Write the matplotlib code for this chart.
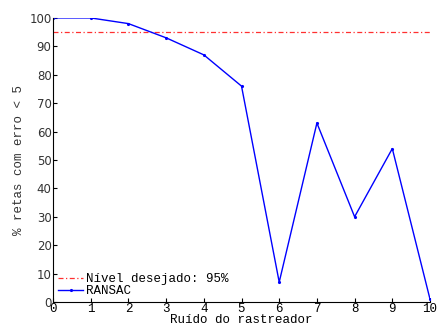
import matplotlib
matplotlib.use("Agg")
import matplotlib.pyplot as plt

noise = [0, 1, 2, 3, 4, 5, 6, 7, 8, 9, 10]
ransac = [100, 100, 98, 93, 87, 76, 7, 63, 30, 54, 1]
desired = 95
xticks = [0, 1, 2, 3, 4, 5, 6, 7, 8, 9, 10]
yticks = [0, 10, 20, 30, 40, 50, 60, 70, 80, 90, 100]

mono = "Liberation Mono"
fig = plt.figure(figsize=(4.37, 3.26), dpi=100)
ax = fig.add_axes([0.1213, 0.0736, 0.8627, 0.8714])
ax.plot([noise[0], noise[-1]], [desired, desired], color="#ff3030", linestyle=(0, (4, 2, 1, 2)),
        linewidth=0.9, label="Nível desejado: 95%")
ax.plot(noise, ransac, color="blue", linewidth=1.0, marker=".", markersize=2.5,
        label="RANSAC")
ax.set_xlim(0, 10)
ax.set_ylim(0, 100)
ax.set_xticks(xticks)
ax.set_yticks(yticks)
ax.set_xticklabels([str(t) for t in xticks], fontfamily=mono, fontsize=9)
ax.set_yticklabels([str(t) for t in yticks], fontfamily="DejaVu Sans", fontsize=8.5,
                   color="#333333")
ax.tick_params(direction="in", length=3, width=0.8, pad=1)
for s in ["top", "right"]:
    ax.spines[s].set_visible(False)
ax.set_xlabel("Ruído do rastreador", fontfamily=mono, fontsize=9, labelpad=-1)
ax.set_ylabel("% retas com erro < 5", fontfamily=mono, fontsize=9, labelpad=3,
              color="#333333")
ax.legend(loc="lower left", frameon=False, prop={"family": mono, "size": 9},
          handlelength=2.0, handletextpad=0.2, labelspacing=0.0,
          borderaxespad=0.1, borderpad=0.3)
fig.savefig("out.png", dpi=100)
